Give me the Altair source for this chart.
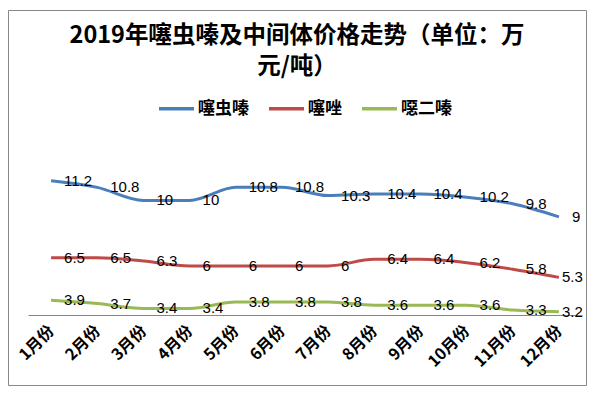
import altair as alt
import pandas as pd

months = ['1月份', '2月份', '3月份', '4月份', '5月份', '6月份',
          '7月份', '8月份', '9月份', '10月份', '11月份', '12月份']
series_names = ['噻虫嗪', '噻唑', '噁二嗪']
thiamethoxam = [11.2, 10.8, 10, 10, 10.8, 10.8, 10.3, 10.4, 10.4, 10.2, 9.8, 9]
thiazole = [6.5, 6.5, 6.3, 6, 6, 6, 6, 6.4, 6.4, 6.2, 5.8, 5.3]
oxadiazine = [3.9, 3.7, 3.4, 3.4, 3.8, 3.8, 3.8, 3.6, 3.6, 3.6, 3.3, 3.2]
colors = ['#4A7EBB', '#BE4B48', '#98B954']

rows = []
for name, vals in zip(series_names, [thiamethoxam, thiazole, oxadiazine]):
    for m, v in zip(months, vals):
        rows.append({'month': m, 'series': name, 'value': v, 'label': f'{v:g}'})
df = pd.DataFrame(rows)

x_enc = alt.X('month:N', sort=months,
              scale=alt.Scale(type='point', padding=0.5),
              axis=alt.Axis(title=None, labelAngle=-45, labelAlign='right',
                            labelBaseline='middle', labelPadding=13,
                            labelFont='Noto Sans CJK SC', labelFontSize=16,
                            labelFontWeight='bold', labelColor='#000000',
                            ticks=False, grid=False, domainColor='#868686',
                            domainWidth=1))
y_enc = alt.Y('value:Q', scale=alt.Scale(domain=[3, 14], nice=False, zero=False),
              axis=None)
color_enc = alt.Color('series:N', sort=series_names,
                      scale=alt.Scale(domain=series_names, range=colors),
                      legend=alt.Legend(orient='none', legendX=129, legendY=-46,
                                        direction='horizontal', title=None,
                                        symbolType='stroke', symbolSize=1225,
                                        symbolStrokeWidth=3.5,
                                        labelFont='Noto Sans CJK SC',
                                        labelFontSize=17, labelFontWeight='bold',
                                        labelColor='#000000', labelOffset=2,
                                        columnPadding=13))

base = alt.Chart(df)

lines = base.mark_line(strokeWidth=3, interpolate='monotone').encode(
    x=x_enc, y=y_enc, color=color_enc)

labels_main = base.mark_text(align='left', baseline='middle', dx=13,
                             font='Liberation Sans', fontSize=15,
                             color='#000000').encode(
    x=alt.X('month:N', sort=months), y='value:Q', text='label:N'
).transform_filter("!(datum.month == '12月份' && datum.series != '噻虫嗪')")

labels_end = base.mark_text(align='left', baseline='middle', dx=3,
                            font='Liberation Sans', fontSize=15,
                            color='#000000').encode(
    x=alt.X('month:N', sort=months), y='value:Q', text='label:N'
).transform_filter("datum.month == '12月份' && datum.series != '噻虫嗪'")

border = alt.Chart(pd.DataFrame({'a': [0]})).mark_rect(
    fillOpacity=0, stroke='#888888', strokeWidth=1).encode(
    x=alt.value(-19.5), x2=alt.value(558.5),
    y=alt.value(-124.5), y2=alt.value(250.5))

chart = alt.layer(border, lines, labels_main, labels_end).properties(
    width=554, height=180,
    autosize=alt.AutoSizeParams(type='none'),
    padding={'left': 20, 'top': 127, 'right': 5, 'bottom': 71},
    title=alt.TitleParams(
        text=['2019年噻虫嗪及中间体价格走势（单位：万', '元/吨）'],
        font='Noto Sans CJK SC', fontSize=23.5, fontWeight='bold',
        color='#000000', anchor='middle', dx=-8, offset=-68,
        baseline='top', lineHeight=31)
).configure_view(stroke=None)

chart.save('out.html', embed_options={'renderer': 'svg', 'actions': False})
